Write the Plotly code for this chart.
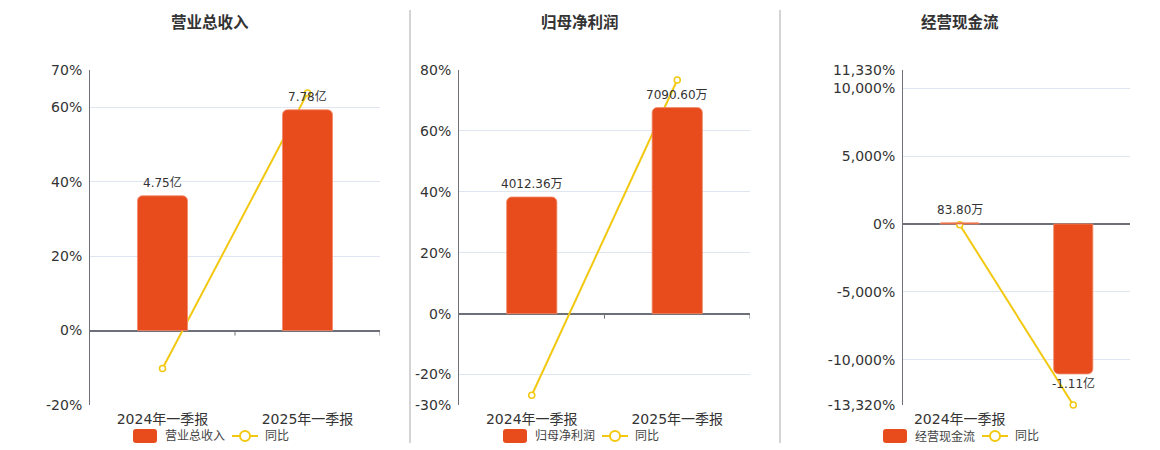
import plotly.graph_objects as go

# ---------------- data ----------------
categories = ["2024年一季报", "2025年一季报"]
titles = ["营业总收入", "归母净利润", "经营现金流"]
yoy_name = "同比"

revenue_wan = [47500.0, 77800.0]          # 4.75亿, 7.78亿
revenue_yoy = [-10.2, 63.79]
profit_wan = [4012.36, 7090.60]
profit_yoy = [-26.8, 76.72]
cashflow_wan = [83.80, -11100.0]          # 83.80万, -1.11亿
cashflow_yoy = [-50.0, -13320.0]

yoy_ticks_1 = [-20, 0, 20, 40, 60, 70]
yoy_ticks_2 = [-30, -20, 0, 20, 40, 60, 80]
yoy_ticks_3 = [-13320, -10000, -5000, 0, 5000, 10000, 11330]
yoy_ticktext_1 = ["-20%", "0%", "20%", "40%", "60%", "70%"]
yoy_ticktext_2 = ["-30%", "-20%", "0%", "20%", "40%", "60%", "80%"]
yoy_ticktext_3 = ["-13,320%", "-10,000%", "-5,000%", "0%", "5,000%", "10,000%", "11,330%"]
xlabels_3 = ["2024年一季报"]

# ---------------- style / geometry ----------------
OFF = 8                      # page body margin
W, H = 1160 - 2 * OFF, 450 - OFF
BAR_COLOR = "#E84C1D"
BAR_EDGE = "#F08A68"
LINE_COLOR = "#F2C811"
AXIS_COLOR = "#6E7079"
GRID_COLOR = "#E0E6F1"
TEXT_COLOR = "#333333"
FONT = "DejaVu Sans, Noto Sans CJK SC, sans-serif"


def px(P):
    return (P - OFF) / W


def py(P):
    return 1 - (P - OFF) / H


def fmt(v):
    if abs(v) >= 10000:
        return f"{v / 10000:.2f}亿"
    return f"{v:.2f}万"


panels = [
    dict(bars=revenue_wan, yoy=revenue_yoy, ticks=yoy_ticks_1, ticktext=yoy_ticktext_1,
         k=1312.0, xr=(90, 380), xcat=categories, tickmarks=True, cx=210),
    dict(bars=profit_wan, yoy=profit_yoy, ticks=yoy_ticks_2, ticktext=yoy_ticktext_2,
         k=104.8, xr=(459, 750), xcat=categories, tickmarks=True, cx=580),
    dict(bars=cashflow_wan, yoy=cashflow_yoy, ticks=yoy_ticks_3, ticktext=yoy_ticktext_3,
         k=1.006, xr=(903, 1130), xcat=xlabels_3, tickmarks=False, cx=960),
]

fig = go.Figure()
ydom = [py(405), py(70)]
shapes = []
annotations = []
layout = {}


def rounded_rect(x0, y0, x1, y1, r):
    X = lambda v: px(v)
    Y = lambda v: py(v)
    return (f"M {X(x0 + r)},{Y(y0)} L {X(x1 - r)},{Y(y0)} Q {X(x1)},{Y(y0)} {X(x1)},{Y(y0 + r)} "
            f"L {X(x1)},{Y(y1 - r)} Q {X(x1)},{Y(y1)} {X(x1 - r)},{Y(y1)} "
            f"L {X(x0 + r)},{Y(y1)} Q {X(x0)},{Y(y1)} {X(x0)},{Y(y1 - r)} "
            f"L {X(x0)},{Y(y0 + r)} Q {X(x0)},{Y(y0)} {X(x0 + r)},{Y(y0)} Z")


for i, p in enumerate(panels):
    n = i + 1
    xa = "x" if n == 1 else f"x{n}"
    ya = "y" if n == 1 else f"y{n}"
    yb_n = n + 3
    yb = f"y{yb_n}"
    lo, hi = min(p["ticks"]), max(p["ticks"])

    fig.add_trace(go.Bar(
        x=categories, y=p["bars"], xaxis=xa, yaxis=yb,
        marker=dict(color=BAR_COLOR, line=dict(width=0.8, color=BAR_EDGE)),
        width=0.345, name=titles[i], hoverinfo="skip",
    ))
    fig.add_trace(go.Scatter(
        x=categories, y=p["yoy"], xaxis=xa, yaxis=ya,
        mode="lines+markers",
        line=dict(color=LINE_COLOR, width=2),
        marker=dict(symbol="circle", size=6, color="white",
                    line=dict(color=LINE_COLOR, width=1.5)),
        cliponaxis=False, name=yoy_name, hoverinfo="skip",
    ))
    # bar value labels, anchored at the bar ends
    for cat, v in zip(categories, p["bars"]):
        annotations.append(dict(
            text=fmt(v), xref=xa, yref=yb, x=cat, y=v,
            xanchor="center", yanchor="bottom" if v >= 0 else "top",
            yshift=4 if v >= 0 else 0, showarrow=False,
            font=dict(size=12, color=TEXT_COLOR, family=FONT),
        ))

    layout["xaxis" if n == 1 else f"xaxis{n}"] = dict(
        domain=[px(p["xr"][0]), px(p["xr"][1])], anchor=ya, type="category",
        range=[-0.5, len(categories) - 0.5],
        tickmode="array", tickvals=p["xcat"], ticktext=p["xcat"],
        showgrid=False, showline=False, zeroline=False, ticks="",
        tickfont=dict(size=14, color=TEXT_COLOR, family=FONT),
        ticklabelstandoff=4, automargin=False,
    )
    layout["yaxis" if n == 1 else f"yaxis{n}"] = dict(
        domain=ydom, anchor=xa, range=[lo, hi],
        tickmode="array", tickvals=p["ticks"], ticktext=p["ticktext"],
        showgrid=True, gridcolor=GRID_COLOR, gridwidth=1,
        zeroline=True, zerolinecolor=AXIS_COLOR, zerolinewidth=2,
        showline=True, linecolor=AXIS_COLOR, linewidth=1,
        ticks="", tickfont=dict(size=14, color=TEXT_COLOR, family=FONT),
        ticklabelstandoff=4, automargin=False,
    )
    layout[f"yaxis{yb_n}"] = dict(
        overlaying=ya, anchor=xa, range=[lo * p["k"], hi * p["k"]],
        visible=False, showgrid=False, zeroline=False, automargin=False,
    )

    c = p["cx"]
    annotations.append(dict(
        text=f"<b>{titles[i]}</b>", xref="paper", yref="paper",
        x=px(c), y=py(22), xanchor="center", yanchor="middle",
        showarrow=False, font=dict(size=15.5, color=TEXT_COLOR, family=FONT),
    ))
    # manual legend
    shapes.append(dict(type="path", xref="paper", yref="paper",
                       path=rounded_rect(c - 77, 429, c - 53, 443, 3),
                       fillcolor=BAR_COLOR, line=dict(width=0)))
    annotations.append(dict(text=titles[i], xref="paper", yref="paper",
                            x=px(c - 47), y=py(436), xanchor="left", yanchor="middle",
                            showarrow=False, font=dict(size=12, color="#444444", family=FONT)))
    shapes.append(dict(type="line", xref="paper", yref="paper",
                       x0=px(c + 22), x1=px(c + 48), y0=py(436), y1=py(436),
                       line=dict(color=LINE_COLOR, width=2)))
    shapes.append(dict(type="circle", xref="paper", yref="paper",
                       x0=px(c + 30), x1=px(c + 40), y0=py(441), y1=py(431),
                       fillcolor="white", line=dict(color=LINE_COLOR, width=2)))
    annotations.append(dict(text=yoy_name, xref="paper", yref="paper",
                            x=px(c + 53), y=py(436), xanchor="left", yanchor="middle",
                            showarrow=False, font=dict(size=12, color="#444444", family=FONT)))

    if p["tickmarks"]:
        for b in [0.5, 1.5]:
            shapes.append(dict(
                type="line", xref=xa, yref=ya, x0=b, x1=b,
                ysizemode="pixel", yanchor=0, y0=0, y1=-5,
                line=dict(color=AXIS_COLOR, width=1),
            ))

for sx in [410, 780]:
    shapes.append(dict(type="line", xref="paper", yref="paper",
                       x0=px(sx), x1=px(sx), y0=py(443), y1=py(10),
                       line=dict(color="#AAAAAA", width=1)))

fig.update_layout(
    width=W, height=H, margin=dict(l=0, r=0, t=0, b=0, autoexpand=False),
    paper_bgcolor="white", plot_bgcolor="white",
    font=dict(family=FONT, color=TEXT_COLOR),
    barcornerradius=5, showlegend=False,
    shapes=shapes, annotations=annotations,
    **layout,
)

fig.write_html("out.html")
